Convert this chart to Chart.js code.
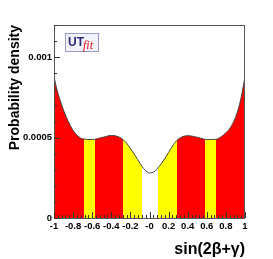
<!DOCTYPE html>
<html>
<head>
<meta charset="utf-8">
<script src="https://cdn.jsdelivr.net/npm/chart.js@4.4.0/dist/chart.umd.min.js"></script>
<style>
  body { margin: 0; background: #fff; }
  #wrap { position: relative; width: 273px; height: 259px; }
  #logo {
    position: absolute; left: 65px; top: 33px; width: 34px; height: 19px;
    border: 1px solid #9a9ac8; background: #f2f2fa; box-sizing: border-box;
    font-family: 'Liberation Sans', sans-serif; white-space: nowrap;
  }
  #logo .ut { position: absolute; left: 2px; top: 1px; font-weight: bold; font-size: 12px; color: #2a2a7a; }
  #logo .fit { position: absolute; left: 17px; top: 4px; font-style: italic; font-family: 'Liberation Serif', serif; font-size: 12px; color: #e01010; }
</style>
</head>
<body>
<div id="wrap">
  <canvas id="chart" width="273" height="259"></canvas>
  <div id="logo"><span class="ut">UT</span><span class="fit">fit</span></div>
</div>
<script>
// posterior of sin(2beta+gamma)
const xValues = [-1, -0.97, -0.94, -0.9, -0.85, -0.8, -0.75, -0.7, -0.6, -0.5, -0.4, -0.3, -0.25, -0.2, -0.15, -0.1, -0.05,
                 0, 0.05, 0.1, 0.15, 0.2, 0.25, 0.3, 0.4, 0.5, 0.6, 0.7, 0.75, 0.8, 0.85, 0.9, 0.94, 0.97, 1];
const density = [0.00088, 0.00080, 0.00074, 0.00067, 0.00060, 0.000545, 0.00051, 0.000492, 0.000488, 0.00050, 0.000513,
                 0.000498, 0.000472, 0.000433, 0.000388, 0.00034, 0.00030, 0.00028, 0.000288, 0.00032, 0.00036, 0.000408,
                 0.000455, 0.00049, 0.000512, 0.000502, 0.000488, 0.00049, 0.000505, 0.00053, 0.000565, 0.000625,
                 0.00070, 0.00078, 0.00088];

// probability regions along x (68% / 95% style bands)
const bandEdges = [-1, -0.686, -0.571, -0.277, -0.08, 0.09, 0.285, 0.58, 0.696, 1];
const bandColors = ['#ff0000', '#ffff00', '#ff0000', '#ffff00', '#ffffff', '#ffff00', '#ff0000', '#ffff00', '#ff0000'];

const xTickLabels = ['-1', '-0.8', '-0.6', '-0.4', '-0.2', '-0', '0.2', '0.4', '0.6', '0.8', '1'];
const yTickLabels = ['0', '0.0005', '0.001'];

const labelFont = { family: "'Liberation Sans', sans-serif", size: 9.5, weight: 'bold' };

function bandFill(context) {
    const chart = context.chart;
    const area = chart.chartArea;
    if (!area) return '#ff0000';
    const xs = chart.scales.x;
    const w = area.right - area.left;
    const g = chart.ctx.createLinearGradient(area.left, 0, area.right, 0);
    bandColors.forEach((c, i) => {
        const a = (xs.getPixelForValue(bandEdges[i]) - area.left) / w;
        const b = (xs.getPixelForValue(bandEdges[i + 1]) - area.left) / w;
        g.addColorStop(Math.min(Math.max(a, 0), 1), c);
        g.addColorStop(Math.min(Math.max(b, 0), 1), c);
    });
    return g;
}

// ROOT-like frame with ticks pointing inwards
const frameTicks = {
    id: 'frameTicks',
    afterDatasetsDraw(chart) {
        const { ctx, chartArea: a, scales } = chart;
        ctx.save();
        ctx.strokeStyle = '#555';
        ctx.lineWidth = 1;
        ctx.strokeRect(a.left + 0.5, a.top + 0.5, a.right - a.left - 1, a.bottom - a.top);
        ctx.strokeStyle = '#333';
        ctx.beginPath();
        scales.x.ticks.forEach(t => {
            const px = Math.round(scales.x.getPixelForValue(t.value)) + 0.5;
            const len = t.label ? 6 : 3;
            ctx.moveTo(px, a.bottom);
            ctx.lineTo(px, a.bottom - len);
        });
        scales.y.ticks.forEach(t => {
            const py = Math.round(scales.y.getPixelForValue(t.value)) + 0.5;
            const len = t.label ? 6 : 3;
            ctx.moveTo(a.left, py);
            ctx.lineTo(a.left + len, py);
        });
        ctx.stroke();
        ctx.restore();
    }
};

new Chart(document.getElementById('chart'), {
    type: 'line',
    data: {
        datasets: [{
            data: xValues.map((x, i) => ({ x: x, y: density[i] })),
            borderColor: '#444',
            borderWidth: 1,
            backgroundColor: bandFill,
            fill: 'origin',
            pointRadius: 0,
            cubicInterpolationMode: 'monotone'
        }]
    },
    options: {
        responsive: false,
        animation: false,
        devicePixelRatio: 1,
        layout: { padding: { top: 25, right: 28, left: 0, bottom: 0 } },
        plugins: { legend: { display: false }, tooltip: { enabled: false } },
        scales: {
            x: {
                type: 'linear',
                min: -1,
                max: 1,
                afterFit: s => { s.height = 41; },
                grid: { display: false, drawTicks: false },
                border: { display: false },
                ticks: {
                    stepSize: 0.04,
                    autoSkip: false,
                    maxRotation: 0,
                    padding: 3,
                    color: '#000',
                    font: labelFont,
                    callback: v => {
                        const k = Math.round(v * 100);
                        return k % 20 === 0 ? xTickLabels[(k + 100) / 20] : '';
                    }
                },
                title: {
                    display: true,
                    text: 'sin(2β+γ)',
                    align: 'end',
                    color: '#000',
                    padding: { top: 1, bottom: 0 },
                    font: { family: "'Liberation Sans', sans-serif", size: 16, weight: 'bold' }
                }
            },
            y: {
                min: 0,
                max: 0.0012,
                afterFit: s => { s.width = 54; },
                grid: { display: false, drawTicks: false },
                border: { display: false },
                ticks: {
                    stepSize: 0.0001,
                    autoSkip: false,
                    padding: 2,
                    color: '#000',
                    font: labelFont,
                    callback: v => {
                        const k = Math.round(v * 10000);
                        return k % 5 === 0 ? yTickLabels[k / 5] : '';
                    }
                },
                title: {
                    display: true,
                    text: 'Probability density',
                    align: 'end',
                    color: '#000',
                    padding: { top: 7, bottom: 0 },
                    font: { family: "'Liberation Sans', sans-serif", size: 14, weight: 'bold' }
                }
            }
        }
    },
    plugins: [frameTicks]
});
</script>
</body>
</html>
